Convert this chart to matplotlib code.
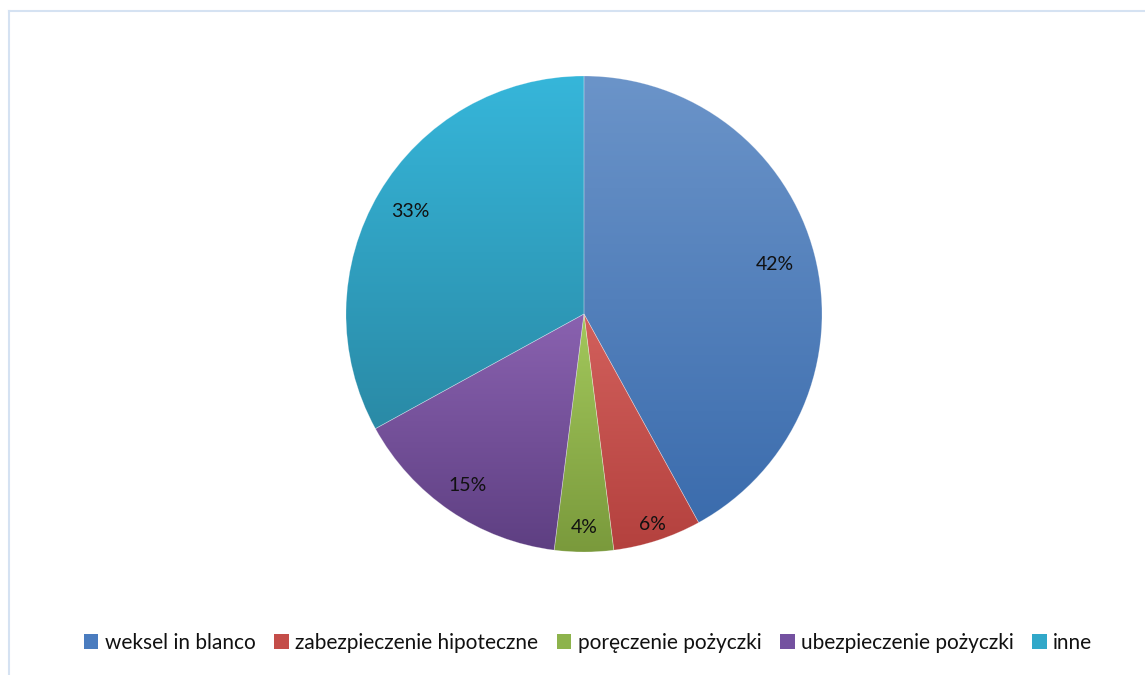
import matplotlib.pyplot as plt
import matplotlib.colors as mcolors
from matplotlib.patches import Patch
import numpy as np

labels = ['weksel in blanco', 'zabezpieczenie hipoteczne', 'poręczenie pożyczki',
          'ubezpieczenie pożyczki', 'inne']
values = [42, 6, 4, 15, 33]
# (top colour, bottom colour) of each slice's shading
tops = ['#6b94c9', '#d2605c', '#a3c85c', '#8a62b0', '#36b6da']
bottoms = ['#3b6cad', '#b4413e', '#7a9a3c', '#5e3f82', '#2a8aa6']
legend_cols = ['#4a7cbf', '#c44d49', '#8db34c', '#7451a0', '#31a8c9']
# radial position of each percentage label (fraction of radius)
label_dist = [0.83, 0.93, 0.895, 0.87, 0.85]

plt.rcParams['font.family'] = ['Lato', 'DejaVu Sans']

W, H = 1145, 675
fig = plt.figure(figsize=(11.45, 6.75), dpi=100)
ax = fig.add_axes([0, 0, 1, 1])

cx, cy, r = 584, H - 314, 238
wedges, texts = ax.pie(values, center=(cx, cy), radius=r, startangle=90,
                       counterclock=False, wedgeprops=dict(edgecolor='none'), frame=True)
ax.set_xlim(0, W)
ax.set_ylim(0, H)
ax.set_aspect('equal')
ax.axis('off')

# light frame (top and left edge of the chart area)
ax.plot([8.5, 8.5], [0, H - 10.5], color='#d5e2f2', lw=1.5)
ax.plot([8.5, W], [H - 10.5, H - 10.5], color='#d5e2f2', lw=1.5)

for w, c1, c2, v, d in zip(wedges, tops, bottoms, values, label_dist):
    ext = w.get_path().get_extents(w.get_patch_transform())
    cmap = mcolors.LinearSegmentedColormap.from_list('g', [c1, c2])
    grad = np.linspace(0, 1, 256).reshape(-1, 1)
    im = ax.imshow(grad, cmap=cmap, aspect='auto', origin='upper',
                   extent=[ext.x0, ext.x1, ext.y0, ext.y1], zorder=1, interpolation='bilinear')
    im.set_clip_path(w)
    w.set_facecolor('none')
    w.set_edgecolor((1, 1, 1, 0.3))
    w.set_linewidth(0.5)
    w.set_zorder(2)
    ang = np.deg2rad((w.theta1 + w.theta2) / 2)
    ax.text(cx + d * r * np.cos(ang), cy + d * r * np.sin(ang), f'{v}%',
            ha='center', va='center', fontsize=14, color='#111111', zorder=3)

ax.set_xlim(0, W)
ax.set_ylim(0, H)
ax.set_aspect('equal')

handles = [Patch(facecolor=c, edgecolor='none') for c in legend_cols]
fig.legend(handles, labels, loc='center', bbox_to_anchor=(588 / W, 1 - 643 / H),
           ncol=5, frameon=False, fontsize=15, handlelength=0.7, handleheight=0.7,
           handletextpad=0.3, columnspacing=0.9, labelcolor='#111111')

plt.savefig('out.png', dpi=100)
